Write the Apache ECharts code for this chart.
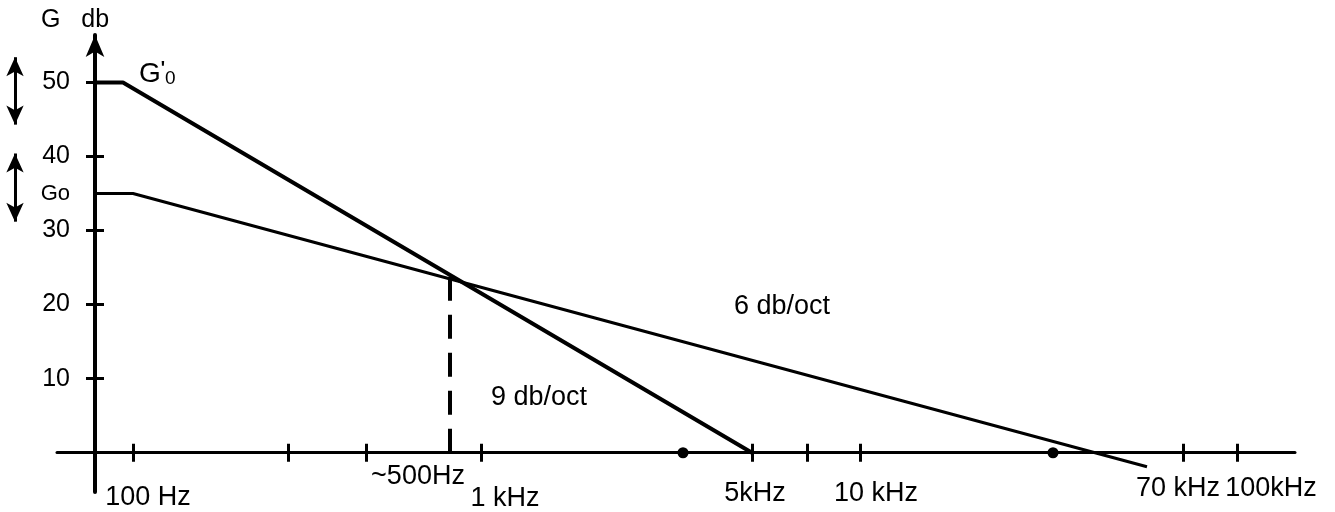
<!DOCTYPE html>
<html>
<head>
<meta charset="utf-8">
<script src="https://cdn.jsdelivr.net/npm/echarts/dist/echarts.min.js"></script>
<style>
  html, body { margin: 0; padding: 0; background: #fff; }
  #main { width: 1335px; height: 512px; }
</style>
</head>
<body>
<div id="main"></div>
<script>
// x = position along the (schematic) frequency axis, y = gain in db
var yTicks = [10, 20, 30, 40, 50];
var xTicks = [3.8, 19.3, 27.1, 38.6, 65.7, 71.2, 76.5, 108.8, 114.2];
var freqLabels = ['100 Hz', '~500Hz', '1 kHz', '5kHz', '10 kHz', '70 kHz', '100kHz'];
var freqLabelAt = [3.8, 35.5, 38.6, 65.7, 76.5, 108.8, 114.2];
var gPrime = [[0, 50], [2.8, 50], [65.7, 0]];      // G'0 , 9 db/oct
var gZero = [[0, 35], [3.8, 35], [105.2, -1.9]];   // G0 , 6 db/oct
var crossing = [[35.5, 0], [35.5, 24]];            // ~500Hz
var axisDots = [[58.8, 0], [95.8, 0]];
var gainRanges = [[53.4, 44.3], [40.4, 31.2]];     // double arrows G'0 / G0

// decalage des libelles de frequence (px)
var shiftX = [15, -32, 24, 3, 16, -5, 34];
var shiftY = [31, 10, 32, 27, 27, 22, 22];

var FONT = '"Liberation Sans", Arial, Helvetica, sans-serif';
var INK = '#000';

var rich = {};
freqLabels.forEach(function (t, i) {
    var dx = shiftX[i];
    rich['l' + i] = {
        fontSize: 27,
        fontFamily: FONT,
        color: INK,
        padding: [shiftY[i], dx < 0 ? -2 * dx : 0, 0, dx > 0 ? 2 * dx : 0]
    };
});

var yMin = -5.3, yMax = 56.4;

var option = {
    backgroundColor: '#fff',
    animation: false,
    grid: [
        { left: 57, right: 40, top: 35, bottom: 20, outerBoundsMode: 'none' },
        { left: 5, width: 20, top: 35, bottom: 20, outerBoundsMode: 'none' }
    ],
    xAxis: [
        {
            type: 'value', gridIndex: 0, position: 'bottom',
            min: -3.8, max: 120,
            axisLine: { onZero: true, onZeroAxisIndex: 0, lineStyle: { color: INK, width: 3 } },
            axisTick: { show: true, inside: false, length: 9, customValues: xTicks, lineStyle: { color: INK, width: 3 } },
            axisLabel: {
                show: true, margin: -39, customValues: freqLabelAt, rich: rich,
                formatter: function (v) {
                    for (var i = 0; i < freqLabelAt.length; i++) {
                        if (Math.abs(freqLabelAt[i] - v) < 1e-6) return '{l' + i + '|' + freqLabels[i] + '}';
                    }
                    return '';
                }
            },
            splitLine: { show: false }
        },
        {
            type: 'value', gridIndex: 0, position: 'bottom',
            min: -3.8, max: 120,
            axisLine: { show: false, onZero: true, onZeroAxisIndex: 0 },
            axisTick: { show: true, inside: true, length: 9, customValues: xTicks, lineStyle: { color: INK, width: 3 } },
            axisLabel: { show: false },
            splitLine: { show: false }
        },
        { type: 'value', gridIndex: 1, min: -1, max: 1, show: false }
    ],
    yAxis: [
        {
            type: 'value', gridIndex: 0, position: 'left',
            min: yMin, max: yMax,
            name: 'G   db',
            nameLocation: 'end',
            nameGap: 2,
            nameTextStyle: { fontSize: 25, fontFamily: FONT, color: INK, padding: [0, 40, 0, 0] },
            axisLine: {
                onZero: true, onZeroAxisIndex: 0,
                symbol: ['none', 'arrow'], symbolSize: [14, 22],
                lineStyle: { color: INK, width: 4 }
            },
            axisTick: { show: true, inside: false, length: 9, customValues: yTicks, lineStyle: { color: INK, width: 3 } },
            axisLabel: { show: true, margin: -13, customValues: yTicks, fontSize: 25, fontFamily: FONT, color: INK },
            splitLine: { show: false }
        },
        {
            type: 'value', gridIndex: 0, position: 'left',
            min: yMin, max: yMax,
            axisLine: { show: false, onZero: true, onZeroAxisIndex: 0 },
            axisTick: { show: true, inside: true, length: 9, customValues: yTicks, lineStyle: { color: INK, width: 3 } },
            axisLabel: { show: false },
            splitLine: { show: false }
        },
        { type: 'value', gridIndex: 1, min: yMin, max: yMax, show: false }
    ],
    series: [
        {
            name: "G'0",
            type: 'line',
            xAxisIndex: 0, yAxisIndex: 0,
            symbolSize: 0,
            showSymbol: true,
            lineStyle: { color: INK, width: 4 },
            data: gPrime.map(function (p, i) {
                if (i !== 1) return p;
                return {
                    value: p,
                    label: {
                        show: true, position: 'right', distance: 16, offset: [0, -8],
                        formatter: '{g|G}{p|\'}{s|0}',
                        rich: {
                            g: { fontSize: 28, fontFamily: FONT, color: INK },
                            p: { fontSize: 18, fontFamily: FONT, fontWeight: 'bold', color: INK, verticalAlign: 'top' },
                            s: { fontSize: 19, fontFamily: FONT, color: INK, verticalAlign: 'bottom' }
                        }
                    }
                };
            }),
            markPoint: {
                symbol: 'circle', symbolSize: 0,
                label: { show: true, position: 'inside', fontSize: 27, fontFamily: FONT, color: INK, formatter: '{b}' },
                data: [{ name: '9 db/oct', coord: [44.4, 7.5] }]
            },
            z: 3
        },
        {
            name: 'G0',
            type: 'line',
            xAxisIndex: 0, yAxisIndex: 0,
            symbolSize: 0,
            showSymbol: true,
            lineStyle: { color: INK, width: 3 },
            data: gZero.map(function (p, i) {
                if (i !== 0) return p;
                return {
                    value: p,
                    label: { show: true, position: 'left', distance: 25, fontSize: 22, fontFamily: FONT, color: INK, formatter: 'Go' }
                };
            }),
            markPoint: {
                symbol: 'circle', symbolSize: 0,
                label: { show: true, position: 'inside', fontSize: 27, fontFamily: FONT, color: INK, formatter: '{b}' },
                data: [{ name: '6 db/oct', coord: [68.7, 19.7] }]
            },
            z: 3
        },
        {
            name: '~500Hz',
            type: 'line',
            xAxisIndex: 0, yAxisIndex: 0,
            symbol: 'none',
            lineStyle: { color: INK, width: 4, type: [24, 14] },
            data: crossing,
            z: 2
        },
        {
            name: 'points',
            type: 'scatter',
            xAxisIndex: 0, yAxisIndex: 0,
            symbol: 'circle',
            symbolSize: 11,
            itemStyle: { color: INK, opacity: 1 },
            data: axisDots,
            z: 4
        },
        {
            name: 'plages',
            type: 'line',
            xAxisIndex: 2, yAxisIndex: 2,
            data: [],
            markLine: {
                silent: true,
                symbol: ['arrow', 'arrow'],
                symbolSize: [13, 19],
                label: { show: false },
                lineStyle: { color: INK, width: 3, type: 'solid' },
                data: gainRanges.map(function (r) {
                    return [{ coord: [0, r[0]] }, { coord: [0, r[1]] }];
                })
            }
        }
    ]
};

var chart = echarts.init(document.getElementById('main'));
chart.setOption(option);
</script>
</body>
</html>
